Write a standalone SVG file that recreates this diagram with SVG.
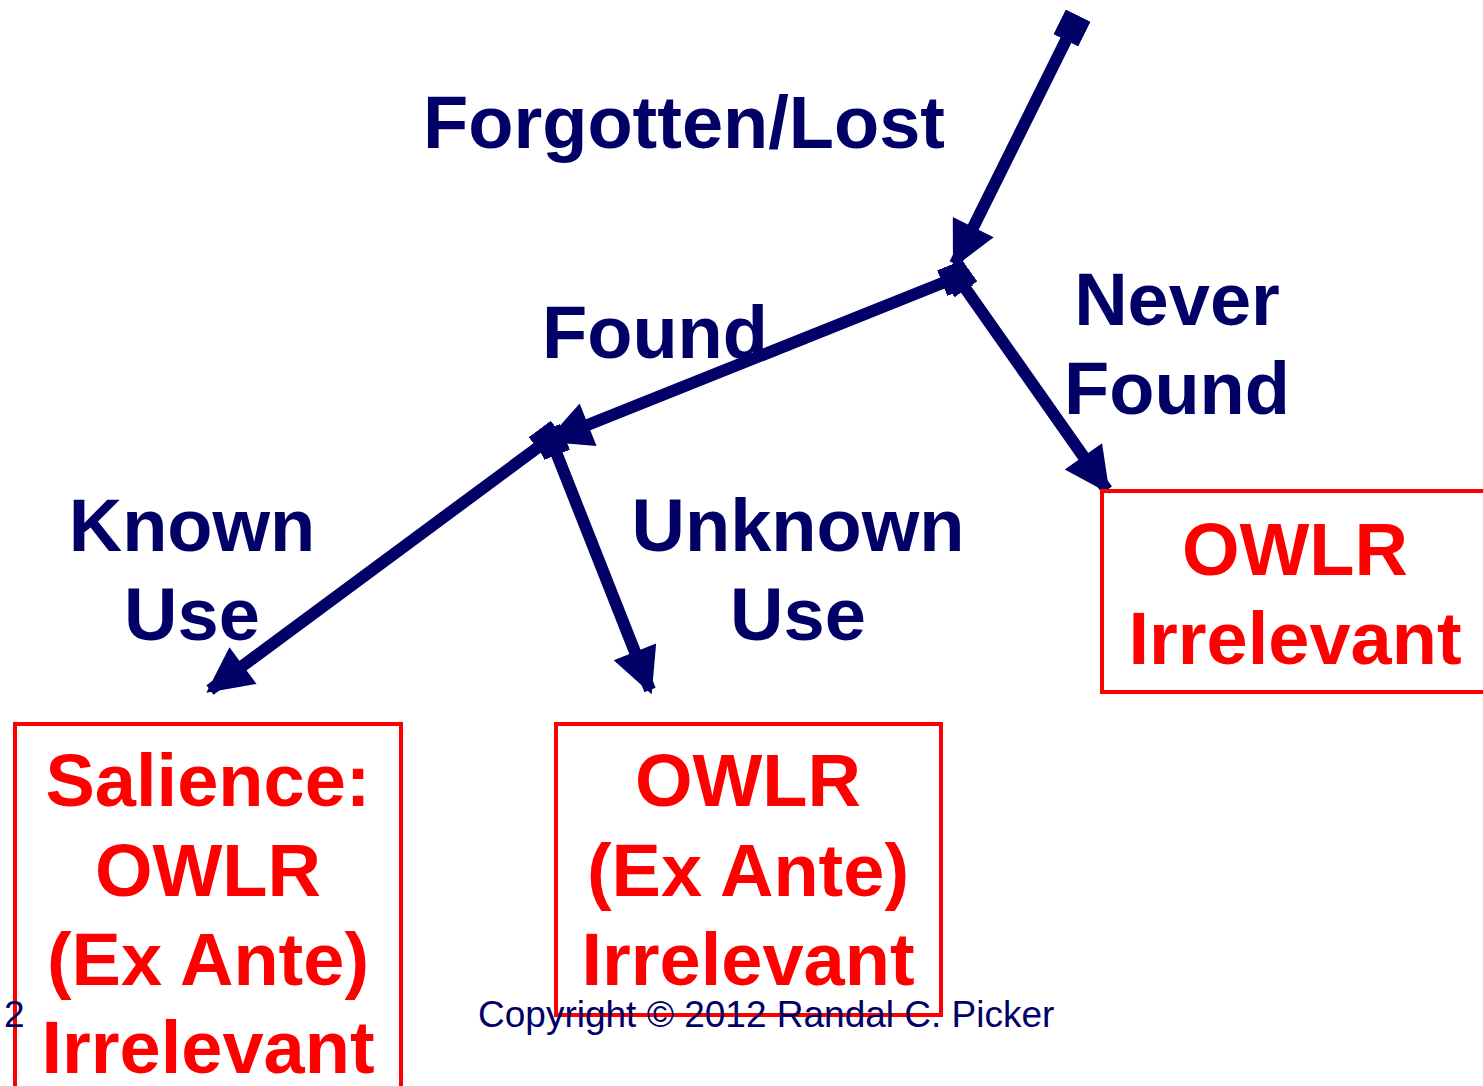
<svg xmlns="http://www.w3.org/2000/svg" width="1483" height="1086" viewBox="0 0 1483 1086">
<style>
.lbl{font-family:"Liberation Sans",Arial,sans-serif;font-weight:bold;font-size:74px;fill:#000066;text-anchor:middle}
.red{font-family:"Liberation Sans",Arial,sans-serif;font-weight:bold;font-size:74px;fill:#ff0000;text-anchor:middle}
.box{fill:none;stroke:#ff0000;stroke-width:4}
.conn{stroke:#000066;stroke-width:12;fill:none;marker-start:url(#sq);marker-end:url(#arr)}
.foot{font-family:"Liberation Sans",Arial,sans-serif;font-size:37px;fill:#000066}
</style>
<defs>
<marker id="arr" viewBox="0 0 10 10" refX="9" refY="5" markerWidth="4" markerHeight="3.8" orient="auto" markerUnits="strokeWidth">
<path d="M0,0 L10,5 L0,10 Z" fill="#000066"/>
</marker>
<marker id="sq" viewBox="0 0 10 10" refX="5" refY="5" markerWidth="2.3" markerHeight="2.3" orient="auto" markerUnits="strokeWidth">
<rect x="0" y="0" width="10" height="10" fill="#000066"/>
</marker>
</defs>
<g id="connectors">
<line class="conn" x1="1072" y1="28" x2="955" y2="264"/>
<line class="conn" x1="955" y1="278" x2="550" y2="440"/>
<line class="conn" x1="548" y1="440" x2="210" y2="690"/>
<line class="conn" x1="552" y1="442" x2="650" y2="690"/>
<line class="conn" x1="958" y1="278" x2="1107" y2="490"/>
</g>
<g id="forgotten"><text class="lbl" x="684" y="148">Forgotten/Lost</text></g>
<g id="found"><text class="lbl" x="655" y="358">Found</text></g>
<g id="never-found"><text class="lbl" x="1177" y="325">Never</text><text class="lbl" x="1177" y="414">Found</text></g>
<g id="known-use"><text class="lbl" x="192" y="551">Known</text><text class="lbl" x="192" y="640">Use</text></g>
<g id="unknown-use"><text class="lbl" x="798" y="551">Unknown</text><text class="lbl" x="798" y="640">Use</text></g>
<g id="box-never"><rect class="box" x="1102" y="491" width="395" height="201"/>
<text class="red" x="1295" y="575">OWLR</text><text class="red" x="1295" y="664">Irrelevant</text></g>
<g id="box-known"><rect class="box" x="15" y="724" width="386" height="400"/>
<text class="red" x="208" y="806">Salience:</text><text class="red" x="208" y="896">OWLR</text><text class="red" x="208" y="985">(Ex Ante)</text><text class="red" x="208" y="1073">Irrelevant</text></g>
<g id="box-unknown"><rect class="box" x="556" y="724" width="385" height="291"/>
<text class="red" x="748" y="806">OWLR</text><text class="red" x="748" y="896">(Ex Ante)</text><text class="red" x="748" y="985">Irrelevant</text></g>
<g id="footer"><text class="foot" x="4" y="1027">2</text><text class="foot" x="478" y="1027">Copyright © 2012 Randal C. Picker</text></g>
</svg>
